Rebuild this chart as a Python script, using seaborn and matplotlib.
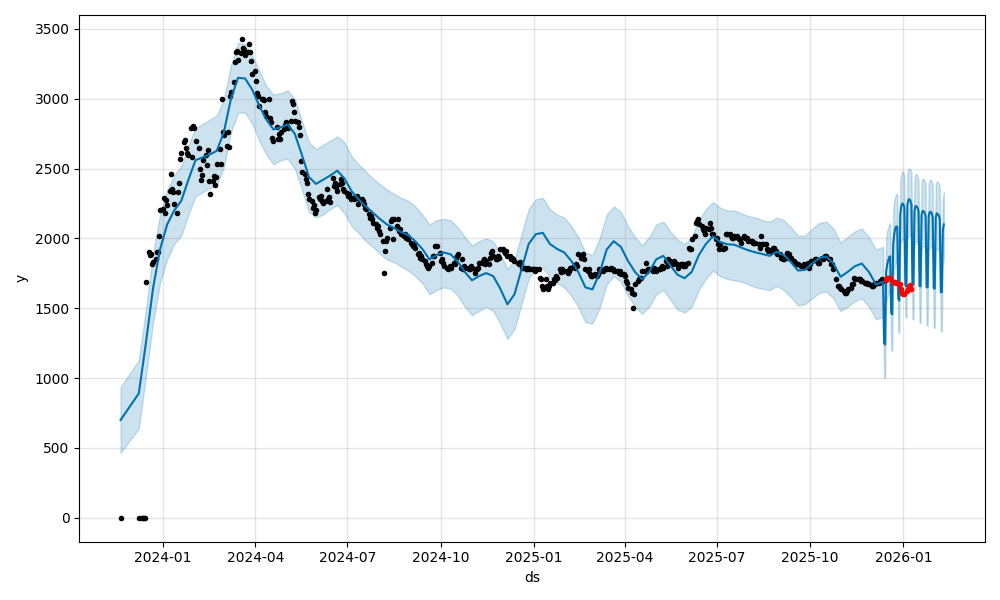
import matplotlib
matplotlib.use("Agg")
import matplotlib.pyplot as plt
import seaborn as sns
import pandas as pd

# observed points (weekdays), zeros at the start
zero_dates = ["2023-11-20", "2023-12-08", "2023-12-11", "2023-12-12", "2023-12-13", "2023-12-14"]
obs_start = "2023-12-15"
obs_y = [1685,
    1905, 1880, 1890, 1815, 1830,
    1850, 1900, 1905, 2015, 2204,
    2210, 2290, 2180, 2276, 2238,
    2340, 2460, 2357, 2333, 2245,
    2185, 2333, 2395, 2572, 2615,
    2690, 2706, 2644, 2615, 2600,
    2790, 2580, 2802, 2790, 2699,
    2644, 2500, 2420, 2453, 2560,
    2600, 2525, 2634, 2413, 2317,
    2413, 2448, 2380, 2440, 2530,
    2640, 2532, 2998, 2760, 2740,
    2663, 2759, 2652, 3022, 3046,
    3120, 3261, 3333, 3345, 3280,
    3330, 3428, 3360, 3351, 3310,
    3333, 3392, 3333, 3273, 3180,
    3201, 3130, 3041, 3020, 2950,
    2998, 2998, 2990, 2902, 2878,
    2995, 2860, 2831, 2720, 2700,
    2795, 2710, 2747, 2711, 2760,
    2780, 2810, 2831, 2807, 2790,
    2840, 2987, 2960, 2902, 2843,
    2831, 2800, 2740, 2555, 2472,
    2460, 2424, 2400, 2317, 2281,
    2269, 2221, 2240, 2185, 2200,
    2293, 2281, 2305, 2269, 2250,
    2269, 2353, 2281, 2300, 2260,
    2436, 2376, 2400, 2365, 2340,
    2388, 2424, 2400, 2353, 2341,
    2328, 2305, 2317, 2300, 2281,
    2281, 2300, 2305, 2245, 2281,
    2281, 2269, 2245, 2221, 2209,
    2173, 2149, 2161, 2137, 2113,
    2101, 2078, 2090, 2054, 2030,
    1982, 1755, 1910, 1982, 2006,
    2078, 2126, 2137, 1994, 2137,
    2090, 2137, 2054, 2066, 2030,
    2018, 2030, 2006, 2020, 1994,
    1970, 1958, 1946, 1958, 1934,
    1886, 1898, 1862, 1874, 1850,
    1838, 1815, 1800, 1791, 1803,
    1827, 1874, 1874, 1946, 1946,
    1898, 1838, 1850, 1827, 1803,
    1791, 1779, 1791, 1803, 1791,
    1827, 1815, 1862, 1874, 1886,
    1791, 1850, 1779, 1803, 1791,
    1791, 1779, 1779, 1803, 1791,
    1755, 1779, 1779, 1790, 1827,
    1827, 1838, 1850, 1815, 1838,
    1815, 1862, 1898, 1910, 1874,
    1850, 1850, 1874, 1860, 1922,
    1922, 1910, 1898, 1910, 1874,
    1874, 1850, 1860, 1850, 1838,
    1827, 1815, 1830, 1815, 1791,
    1791, 1779, 1779, 1790, 1779,
    1779, 1779, 1780, 1770, 1779,
    1779, 1719, 1707, 1659, 1635,
    1707, 1659, 1635, 1660, 1683,
    1683, 1707, 1700, 1731, 1720,
    1779, 1760, 1779, 1767, 1767,
    1767, 1755, 1770, 1791, 1791,
    1803, 1790, 1815, 1803, 1886,
    1862, 1874, 1886, 1850, 1779,
    1767, 1779, 1743, 1731, 1731,
    1743, 1731, 1743, 1779, 1767,
    1767, 1779, 1779, 1791, 1779,
    1779, 1791, 1779, 1779, 1767,
    1767, 1767, 1755, 1767, 1743,
    1743, 1731, 1695, 1683, 1647,
    1635, 1612, 1504, 1600, 1671,
    1695, 1707, 1719, 1719, 1767,
    1767, 1827, 1767, 1779, 1779,
    1779, 1767, 1791, 1779, 1767,
    1779, 1779, 1791, 1803, 1791,
    1838, 1803, 1850, 1815, 1838,
    1815, 1838, 1827, 1815, 1791,
    1815, 1815, 1803, 1815, 1803,
    1827, 1934, 1922, 1922, 1994,
    2018, 2113, 2126, 2137, 2102,
    2090, 2066, 2054, 2030, 2078,
    2066, 2113, 2078, 2030, 2030,
    1994, 2006, 1958, 1922, 1958,
    1922, 1934, 1934, 2030, 2030,
    2030, 2018, 2006, 2006, 2018,
    2018, 2006, 1994, 1994, 1970,
    2018, 2006, 2006, 2006, 1982,
    1982, 1982, 1970, 1970, 1970,
    1958, 1934, 2018, 1958, 1958,
    1958, 1922, 1910, 1920, 1910,
    1934, 1934, 1910, 1910, 1886,
    1886, 1862, 1862, 1850, 1850,
    1898, 1862, 1886, 1862, 1862,
    1838, 1827, 1815, 1815, 1815,
    1803, 1803, 1810, 1815, 1803,
    1827, 1791, 1815, 1838, 1838,
    1850, 1850, 1838, 1827, 1827,
    1862, 1850, 1862, 1874, 1874,
    1850, 1850, 1815, 1815, 1779,
    1707, 1659, 1659, 1647, 1635,
    1623, 1612, 1612, 1623, 1635,
    1647, 1671, 1671, 1719, 1707,
    1707, 1707, 1707, 1695, 1695,
    1683, 1683, 1683, 1671, 1671,
    1659, 1659, 1671, 1671, 1683,
    1683, 1695, 1695, 1707, 1695]

# held-out points (red)
test_start = "2025-12-15"
test_y = [1700, 1715, 1719, 1720, 1715,
          1690, 1690, 1685, 1683, 1683,
          1671, 1640, 1612, 1605, 1600,
          1623, 1635, 1659, 1665, 1640]

# forecast over history: two early dates, then weekly from 2023-12-15
fc_first_dates = ["2023-11-20", "2023-12-08"]
fc_weekly_start = "2023-12-15"
fc_yhat = [700, 890,
    1250, 1640, 1922, 2100, 2200, 2270, 2420, 2560, 2580, 2600,
    2627, 2760, 3000, 3150, 3145, 3065, 2950, 2850, 2780, 2795,
    2815, 2750, 2600, 2440, 2390, 2420, 2450, 2485, 2430, 2340,
    2280, 2230, 2185, 2140, 2100, 2075, 2045, 2025, 1980, 1925,
    1850, 1880, 1900, 1886, 1835, 1760, 1700, 1730, 1752, 1730,
    1640, 1528, 1600, 1780, 1960, 2030, 2040, 1960, 1925, 1900,
    1840, 1760, 1650, 1635, 1750, 1920, 1980, 1940, 1840, 1760,
    1707, 1760, 1850, 1875, 1805, 1740, 1715, 1760, 1880, 1960,
    2015, 1975, 1958, 1955, 1934, 1915, 1900, 1888, 1875, 1905,
    1880, 1830, 1770, 1775, 1820, 1860, 1870, 1820, 1725, 1760,
    1800, 1820, 1760, 1670, 1690]
fc_hi = [935, 1130,
    1490, 1890, 2170, 2350, 2450, 2520, 2670, 2790, 2820, 2850,
    2880, 3000, 3240, 3400, 3390, 3310, 3200, 3090, 3030, 3040,
    3060, 3000, 2840, 2690, 2640, 2670, 2700, 2730, 2690, 2590,
    2530, 2480, 2430, 2390, 2350, 2320, 2290, 2270, 2230, 2170,
    2100, 2130, 2140, 2130, 2080, 2010, 1950, 1980, 2000, 1980,
    1890, 1780, 1850, 2030, 2210, 2280, 2290, 2210, 2170, 2150,
    2090, 2010, 1900, 1880, 2000, 2170, 2230, 2190, 2090, 2010,
    1950, 2010, 2100, 2120, 2050, 1990, 1960, 2010, 2130, 2210,
    2260, 2220, 2200, 2200, 2180, 2160, 2150, 2130, 2120, 2150,
    2130, 2080, 2020, 2020, 2070, 2110, 2120, 2070, 1970, 2010,
    2050, 2070, 2010, 1920, 1940]
fc_lo = [465, 640,
    1010, 1390, 1680, 1850, 1960, 2020, 2170, 2300, 2330, 2360,
    2380, 2510, 2760, 2900, 2900, 2820, 2700, 2600, 2530, 2560,
    2570, 2500, 2350, 2190, 2150, 2170, 2210, 2240, 2180, 2090,
    2040, 1980, 1940, 1890, 1850, 1830, 1800, 1770, 1730, 1680,
    1600, 1630, 1650, 1640, 1590, 1510, 1450, 1480, 1510, 1480,
    1390, 1280, 1350, 1530, 1710, 1790, 1790, 1720, 1680, 1650,
    1590, 1510, 1400, 1390, 1500, 1670, 1730, 1690, 1590, 1510,
    1460, 1510, 1600, 1630, 1560, 1490, 1470, 1510, 1630, 1710,
    1770, 1730, 1710, 1700, 1690, 1670, 1650, 1640, 1630, 1660,
    1630, 1580, 1520, 1530, 1570, 1610, 1620, 1570, 1480, 1510,
    1550, 1570, 1510, 1420, 1440]

# future forecast, daily from 2025-12-13
fut_start = "2025-12-13"
fut_yhat = [1250, 1240,
    1760, 1810, 1840, 1865, 1872, 1470, 1456,
    1960, 2030, 2070, 2087, 2080, 1570, 1555,
    2180, 2230, 2250, 2245, 2220, 1665, 1657,
    2240, 2275, 2281, 2270, 2240, 1675, 1671,
    2200, 2230, 2231, 2220, 2195, 1660, 1657,
    2170, 2195, 2195, 2185, 2160, 1650, 1650,
    2160, 2188, 2190, 2180, 2150, 1645, 1640,
    2150, 2180, 2174, 2165, 2140, 1615, 1614,
    2060, 2100]
fut_hi = [1500, 1490,
    2000, 2050, 2080, 2100, 2110, 1720, 1700,
    2200, 2270, 2300, 2320, 2310, 1810, 1800,
    2410, 2460, 2480, 2475, 2450, 1900, 1890,
    2470, 2500, 2500, 2495, 2470, 1910, 1900,
    2430, 2460, 2460, 2450, 2420, 1890, 1890,
    2400, 2430, 2420, 2415, 2390, 1880, 1880,
    2390, 2420, 2420, 2410, 2380, 1880, 1870,
    2380, 2410, 2400, 2395, 2370, 1850, 1845,
    2290, 2330]
fut_lo = [1010, 1000,
    1520, 1570, 1600, 1620, 1630, 1200, 1190,
    1710, 1780, 1820, 1840, 1830, 1330, 1320,
    1930, 1980, 2000, 1995, 1970, 1440, 1430,
    1990, 2020, 2030, 2020, 1990, 1420, 1420,
    1950, 1980, 1980, 1970, 1940, 1400, 1395,
    1920, 1945, 1945, 1935, 1910, 1380, 1375,
    1910, 1935, 1940, 1930, 1900, 1360, 1360,
    1900, 1930, 1920, 1915, 1890, 1335, 1334,
    1810, 1850]

hist = pd.DataFrame({
    "ds": list(pd.to_datetime(zero_dates)) + list(pd.bdate_range(obs_start, periods=len(obs_y))),
    "y": [0] * len(zero_dates) + obs_y,
})
test = pd.DataFrame({"ds": pd.bdate_range(test_start, periods=len(test_y)), "y": test_y})

fc_ds = (list(pd.to_datetime(fc_first_dates))
         + list(pd.date_range(fc_weekly_start, periods=len(fc_yhat) - 2, freq="7D"))
         + list(pd.date_range(fut_start, periods=len(fut_yhat), freq="D")))
fcst = pd.DataFrame({
    "ds": fc_ds,
    "yhat": fc_yhat + fut_yhat,
    "yhat_lower": fc_lo + fut_lo,
    "yhat_upper": fc_hi + fut_hi,
})

fig = plt.figure(facecolor="w", figsize=(10, 6))
ax = fig.add_subplot(111)
sns.scatterplot(data=hist, x="ds", y="y", color="k", s=16, linewidth=0, zorder=2, ax=ax)
sns.lineplot(data=fcst, x="ds", y="yhat", color="#0072B2", estimator=None, ax=ax)
ax.fill_between(fcst["ds"], fcst["yhat_lower"], fcst["yhat_upper"], color="#0072B2", alpha=0.2)
sns.scatterplot(data=test, x="ds", y="y", color="r", s=16, linewidth=0, zorder=3, ax=ax)
ax.grid(True, which="major", c="gray", ls="-", lw=1, alpha=0.2)
ax.set_xlabel("ds")
ax.set_ylabel("y")
fig.tight_layout()
fig.savefig("out.png", dpi=100)
